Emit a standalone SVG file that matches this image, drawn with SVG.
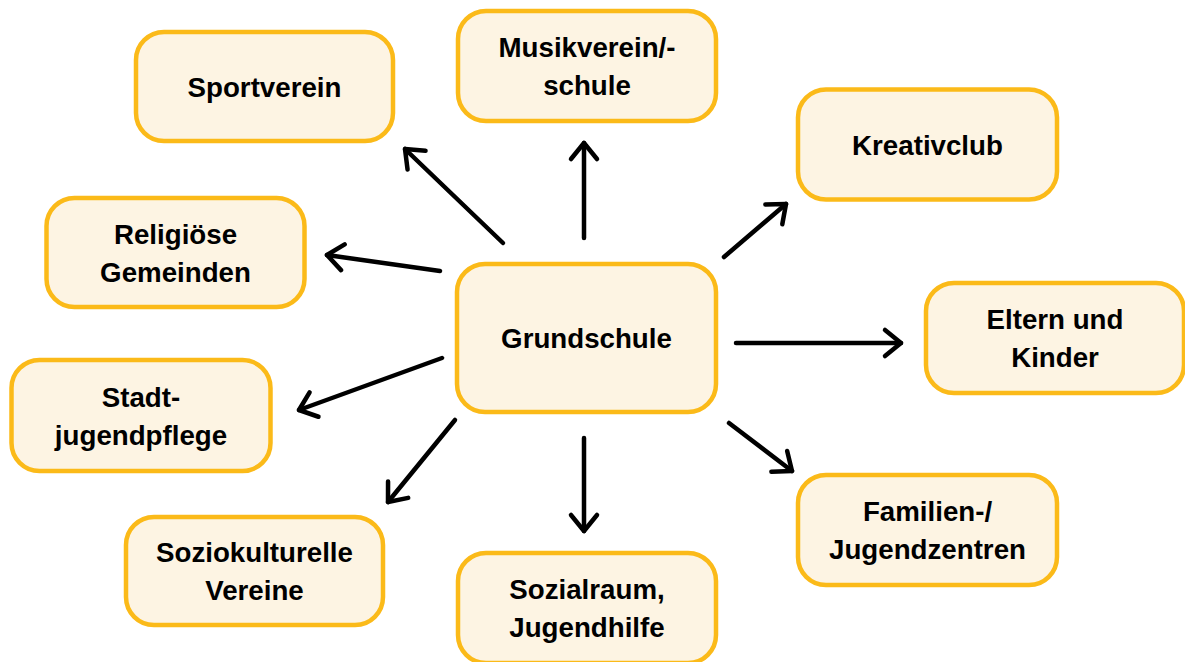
<svg xmlns="http://www.w3.org/2000/svg" width="1185" height="662" viewBox="0 0 1185 662">
<style>
.box{fill:#FDF4E3;stroke:#FBBA19;stroke-width:4.5}
.lbl{font-family:"Liberation Sans",Arial,sans-serif;font-weight:bold;font-size:27.7px;fill:#000;text-anchor:middle}
.con{stroke:#000;stroke-width:4.5;stroke-linecap:round;fill:none}
</style>
<defs>
<marker id="ah" viewBox="-22 -18 26 36" refX="0" refY="0" markerWidth="26" markerHeight="36" markerUnits="userSpaceOnUse" orient="auto">
<path d="M-16,-13 L0,0 L-16,13" fill="none" stroke="#000" stroke-width="4.5" stroke-linecap="round" stroke-linejoin="round"/>
</marker>
</defs>
<rect width="1185" height="662" fill="#fff"/>
<g id="connectors">
<line class="con" x1="503" y1="243" x2="405" y2="149" marker-end="url(#ah)"/>
<line class="con" x1="584" y1="238" x2="584" y2="143" marker-end="url(#ah)"/>
<line class="con" x1="724" y1="257" x2="786" y2="204" marker-end="url(#ah)"/>
<line class="con" x1="736" y1="343" x2="901" y2="343" marker-end="url(#ah)"/>
<line class="con" x1="729" y1="423" x2="792" y2="471" marker-end="url(#ah)"/>
<line class="con" x1="440" y1="271" x2="327" y2="255" marker-end="url(#ah)"/>
<line class="con" x1="442" y1="358" x2="299" y2="410" marker-end="url(#ah)"/>
<line class="con" x1="455" y1="420" x2="388" y2="502" marker-end="url(#ah)"/>
<line class="con" x1="584" y1="438" x2="584" y2="531" marker-end="url(#ah)"/>
</g>
<g id="grundschule">
<rect class="box" x="457" y="264" width="259" height="148" rx="28"/>
<text class="lbl" x="586.5" y="348">Grundschule</text>
</g>
<g id="sportverein">
<rect class="box" x="136" y="32" width="257" height="109" rx="28"/>
<text class="lbl" x="264.5" y="96.5">Sportverein</text>
</g>
<g id="musikverein">
<rect class="box" x="458" y="11" width="258" height="110" rx="28"/>
<text class="lbl" x="587" y="57">Musikverein/-</text>
<text class="lbl" x="587" y="95">schule</text>
</g>
<g id="kreativclub">
<rect class="box" x="798" y="89.5" width="259" height="110" rx="28"/>
<text class="lbl" x="927.5" y="154.5">Kreativclub</text>
</g>
<g id="eltern">
<rect class="box" x="926" y="283" width="258" height="110" rx="28"/>
<text class="lbl" x="1055" y="329">Eltern und</text>
<text class="lbl" x="1055" y="367">Kinder</text>
</g>
<g id="familien">
<rect class="box" x="798" y="475" width="259" height="110" rx="28"/>
<text class="lbl" x="927.5" y="521">Familien-/</text>
<text class="lbl" x="927.5" y="559">Jugendzentren</text>
</g>
<g id="religioese">
<rect class="box" x="46.5" y="198" width="258" height="109" rx="28"/>
<text class="lbl" x="175.5" y="243.5">Religiöse</text>
<text class="lbl" x="175.5" y="281.5">Gemeinden</text>
</g>
<g id="stadtjugendpflege">
<rect class="box" x="11.5" y="360" width="259" height="111" rx="28"/>
<text class="lbl" x="141" y="406.5">Stadt-</text>
<text class="lbl" x="141" y="444.5">jugendpflege</text>
</g>
<g id="soziokulturelle">
<rect class="box" x="126" y="517" width="257" height="108" rx="28"/>
<text class="lbl" x="254.5" y="562">Soziokulturelle</text>
<text class="lbl" x="254.5" y="600">Vereine</text>
</g>
<g id="sozialraum">
<rect class="box" x="458" y="553" width="258" height="110" rx="28"/>
<text class="lbl" x="587" y="599">Sozialraum,</text>
<text class="lbl" x="587" y="637">Jugendhilfe</text>
</g>
</svg>
